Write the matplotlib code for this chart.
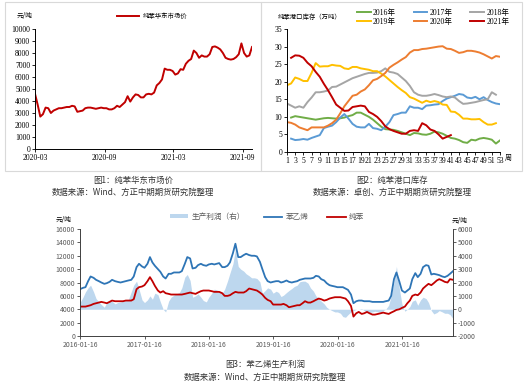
import numpy as np
import pandas as pd
import matplotlib
matplotlib.use('Agg')
import matplotlib.pyplot as plt
from matplotlib.lines import Line2D
from matplotlib.patches import Rectangle, Patch

plt.rcParams['font.family'] = ['Noto Sans CJK SC', 'DejaVu Sans']
plt.rcParams['axes.unicode_minus'] = False

# ---------------- data: chart 1, benzene East China price (weekly) ----------------
price_start = '2020-03-01'
price_values = [4600, 3700, 2700, 2900, 3450, 3400, 3000, 3200, 3300, 3400,
                3400, 3450, 3500, 3500, 3600, 3550, 3100, 3150, 3200, 3400,
                3450, 3450, 3400, 3350, 3400, 3450, 3400, 3400, 3300, 3300,
                3400, 3600, 3500, 3700, 3900, 4400, 3950, 4300, 4550, 4500,
                4300, 4300, 4550, 4600, 4550, 4700, 5300, 5500, 5800, 6700,
                6600, 6600, 6500, 6200, 6300, 6650, 6600, 7100, 7350, 7500,
                8200, 8000, 7600, 7800, 7700, 7700, 7900, 8500, 8550, 8450,
                8300, 8000, 7600, 7500, 7450, 7500, 7650, 7900, 8800, 8000,
                7700, 7800, 8500]

# ---------------- data: chart 2, port inventory by week ----------------
weeks = list(range(1, 54))
nan = np.nan
inv_2016 = [nan, 9.8, 10.2, 10.0, 9.8, 9.6, 9.4, 9.2, 9.4, 9.6, 9.7, 9.6, 9.5,
            9.6, 9.8, 10.2, 10.5, 11.2, 11.2, 10.6, 10.0, 9.2, 8.2, 7.2, 6.5,
            6.4, 6.3, 6.0, 5.6, 5.2, 4.8, 5.4, 5.3, 5.0, 4.9, 5.2, 5.8, 5.6,
            5.2, 4.6, 4.0, 3.8, 3.4, 2.8, 2.6, 3.5, 3.3, 3.8, 4.0, 3.8, 3.5,
            2.4, 3.3]
inv_2017 = [nan, 3.8, 3.4, 3.5, 3.7, 3.5, 4.0, 4.4, 4.8, 6.8, 7.2, 7.5, 8.5,
            9.8, 10.8, 9.5, 8.0, 7.2, 7.0, 7.0, 8.0, 6.8, 6.6, 6.2, 7.2, 8.5,
            10.5, 10.8, 11.2, 11.2, 13.0, 12.6, 12.6, 12.2, 13.2, 13.3, 13.5,
            13.6, 14.5, 15.2, 15.6, 16.0, 16.5, 16.3, 15.5, 15.3, 15.7, 15.0,
            15.6, 14.8, 14.2, 13.8, 13.6]
inv_2018 = [13.8, 13.2, 12.6, 13.0, 12.6, 14.2, 15.5, 17.0, 17.0, 17.2, 17.5,
            18.5, 18.6, 19.2, 19.8, 20.4, 21.0, 21.4, 21.8, 22.2, 22.5, 22.5,
            22.6, 23.0, 23.8, 22.8, 22.6, 22.2, 21.2, 20.2, 18.8, 17.0, 16.3,
            16.0, 16.0, 16.2, 16.5, 16.2, 15.8, 15.6, 15.8, 15.5, 14.5, 13.7,
            13.8, 14.0, 14.2, 14.5, 14.8, 15.0, 17.0, 16.3, nan]
inv_2019 = [19.0, 19.5, 21.2, 20.8, 20.2, 20.2, 22.5, 25.3, 24.3, 24.4, 24.4,
            24.8, 24.6, 24.5, 23.8, 23.6, 24.2, 24.2, 23.8, 23.6, 23.4, 23.0,
            23.0, 22.3, 21.5, 20.5, 19.5, 18.5, 17.6, 16.8, 15.6, 15.2, 14.6,
            14.0, 14.6, 14.2, 14.5, 14.2, 13.5, 13.4, 11.5, 11.4, 10.6, 9.5,
            9.5, 9.3, 9.3, 9.4, 8.5, 7.8, 7.8, 8.2, nan]
inv_2020 = [8.5, 8.3, 7.8, 7.0, 6.6, 6.2, 7.0, 7.0, 7.0, 7.0, 7.5, 8.2, 9.2,
            11.0, 13.0, 14.5, 16.0, 16.3, 17.2, 17.8, 19.0, 20.4, 20.8, 21.6,
            22.5, 24.0, 24.8, 25.5, 26.3, 27.0, 28.3, 29.0, 29.0, 29.3, 29.4,
            29.6, 29.8, 30.0, 30.1, 29.4, 29.3, 28.8, 28.2, 28.4, 28.8, 28.8,
            28.6, 28.3, 27.8, 27.2, 26.6, 27.3, 27.1]
inv_2021 = [nan, 26.8, 27.5, 27.4, 26.8, 25.4, 24.4, 22.8, 21.4, 19.4, 17.6,
            15.6, 13.5, 12.6, 11.7, 11.8, 12.8, 13.0, 13.2, 13.0, 11.4, 10.8,
            10.0, 8.8, 7.3, 6.5, 6.0, 5.6, 5.2, 5.2, 6.0, 6.2, 6.0, 8.2, 7.6,
            6.4, 6.0, 5.0, 3.8, 4.3, 4.8] + [nan] * 12

# ---------------- data: chart 3, styrene / benzene / profit (semi-monthly) ----------------
spread_start = '2016-01-15'
styrene = [7.0, 7.2, 7.3, 8.2, 8.9, 8.7, 8.4, 8.2, 8.0, 7.8,
           7.9, 8.1, 8.4, 8.2, 8.1, 8.0, 8.1, 8.2, 8.3, 8.4,
           8.9, 10.3, 10.8, 10.4, 10.2, 10.8, 11.8, 11.0, 10.5, 10.0,
           9.6, 8.9, 8.6, 9.3, 9.3, 9.5, 9.5, 9.5, 9.7, 10.8,
           11.8, 11.6, 10.1, 10.2, 10.6, 10.8, 10.6, 10.5, 10.7, 10.8,
           10.7, 10.8, 10.9, 10.3, 10.3, 10.5, 11.0, 12.4, 13.8, 11.8,
           11.8, 12.1, 12.3, 12.1, 12.0, 12.0, 11.9, 11.1, 10.0, 8.8,
           8.2, 8.0, 8.1, 8.2, 8.2, 8.0, 8.1, 8.3, 8.1, 8.0,
           8.1, 8.2, 8.4, 8.5, 8.6, 8.6, 8.6, 8.7, 9.0, 8.9,
           8.5, 8.3, 7.9, 7.6, 7.5, 7.4, 7.3, 7.3, 7.3, 7.1,
           6.9, 6.2, 4.9, 5.2, 5.3, 5.3, 5.2, 5.2, 5.2, 5.1,
           5.1, 5.1, 5.1, 5.1, 5.2, 5.3, 6.0, 8.5, 9.5, 8.1,
           6.8, 6.5, 6.8, 7.1, 8.5, 9.4, 8.8, 9.3, 10.3, 10.6,
           10.5, 9.2, 9.3, 9.2, 9.1, 8.9, 8.8, 9.0, 9.3, 9.7]
benzene = [4.4, 4.4, 4.4, 4.5, 4.6, 4.8, 4.9, 5.0, 5.1, 5.0,
           4.9, 5.1, 5.3, 5.2, 5.2, 5.2, 5.2, 5.3, 5.3, 5.3,
           5.5, 7.0, 7.3, 7.4, 7.6, 8.2, 8.8, 8.2, 7.5, 6.8,
           6.5, 6.7, 6.4, 6.3, 6.2, 6.2, 6.2, 6.2, 6.2, 6.3,
           6.4, 6.5, 6.4, 6.3, 6.5, 6.7, 6.8, 6.8, 6.8, 6.7,
           6.6, 6.6, 6.6, 6.4, 6.0, 6.0, 6.1, 6.4, 6.6, 6.5,
           6.5, 6.5, 6.7, 7.1, 7.0, 6.9, 6.8, 6.5, 6.2, 5.7,
           5.4, 5.2, 4.7, 4.7, 4.7, 4.7, 4.8, 4.6, 4.3, 4.4,
           4.5, 4.6, 4.6, 4.9, 5.2, 5.0, 5.0, 5.2, 5.4, 5.6,
           5.5, 5.3, 5.4, 5.6, 5.7, 5.8, 5.8, 5.8, 5.7, 5.6,
           5.2, 4.5, 2.9, 3.4, 3.6, 3.3, 3.4, 3.6, 3.4, 3.2,
           3.2, 3.3, 3.4, 3.5, 3.4, 3.3, 3.5, 3.7, 3.9, 4.0,
           4.2, 4.4, 4.9, 5.3, 6.0, 6.2, 6.1, 6.5, 7.1, 7.5,
           7.8, 7.6, 7.9, 8.3, 8.5, 8.3, 8.1, 8.0, 8.5, 8.4]
profit = [0.5, 0.9, 1.3, 1.6, 1.8, 1.3, 0.8, 0.55, 0.35, 0.15,
          0.5, 0.7, 0.6, 0.4, 0.5, 0.55, 0.6, 0.65, 0.7, 1.3,
          1.8, 2.1, 1.5, 0.7, 0.5, 0.7, 1.0, 0.75, 1.2, 1.1,
          0.55, 0.0, -0.2, 0.6, 0.9, 1.05, 1.15, 1.25, 1.6, 2.4,
          2.6, 2.15, 0.9, 1.0, 1.15, 0.9, 0.65, 0.55, 0.9, 1.2,
          1.5, 1.45, 1.3, 1.2, 1.5, 2.1, 2.7, 3.4, 4.5, 3.2,
          3.0, 2.85, 2.65, 2.5, 2.35, 2.35, 2.3, 2.05, 1.2, 1.4,
          1.6, 1.5, 1.2, 1.35, 1.25, 0.95, 1.05, 1.25, 1.4, 1.55,
          1.7, 1.8, 2.05, 2.1, 2.1, 1.95, 1.6, 1.35, 1.0, 0.8,
          0.6, 0.4, 0.15, 0.0, -0.1, -0.2, -0.2, -0.3, -0.55, -0.6,
          -0.4, -0.2, -0.1, 0.0, 0.0, 0.05, -0.1, -0.2, -0.25, -0.2,
          -0.15, -0.2, -0.2, -0.1, 0.0, 0.3, 1.0, 2.0, 3.2, 1.5,
          0.4, -0.15, 0.0, 0.2, 0.6, 0.7, 0.3, 0.7, 0.9, 0.8,
          0.5, -0.1, -0.35, -0.25, -0.1, -0.2, -0.3, -0.3, -0.4, -0.7]

spread_ticks = ['2016-01-16', '2017-01-16', '2018-01-16', '2019-01-16',
                '2020-01-16', '2021-01-16']

W, H = 530, 387
fig = plt.figure(figsize=(W / 100, H / 100), dpi=100)


def px_axes(l, t, r, b):
    return fig.add_axes([l / W, 1 - b / H, (r - l) / W, (b - t) / H])


def ftext(x, y, s, **kw):
    fig.text(x / W, 1 - y / H, s, **kw)


serif = ['Liberation Serif', 'Noto Sans CJK SC']
cjk = ['Noto Sans CJK SC', 'DejaVu Sans']

# frames around the two top charts
for x0, x1 in [(5, 261), (261, 522)]:
    fig.add_artist(Rectangle((x0 / W, 1 - 171 / H), (x1 - x0) / W, 169 / H,
                             transform=fig.transFigure, fill=False,
                             edgecolor='#d9d9d9', linewidth=0.8))

# ---------------- chart 1 ----------------
ax1 = px_axes(35, 29, 252, 149)
d1 = pd.date_range(price_start, periods=len(price_values), freq='7D')
ax1.plot(d1, price_values, color='#c00000', linewidth=1.4)
ax1.set_ylim(0, 10000)
ax1.set_yticks(range(0, 10001, 1000))
ax1.set_xlim(d1[0], d1[-1])
t1 = pd.to_datetime(['2020-03-01', '2020-09-01', '2021-03-01', '2021-09-01'])
ax1.set_xticks(t1)
ax1.set_xticklabels(['2020-03', '2020-09', '2021-03', '2021-09'])
for s in ['top', 'right']:
    ax1.spines[s].set_visible(False)
for s in ['left', 'bottom']:
    ax1.spines[s].set_linewidth(0.7)
ax1.tick_params(labelsize=5.5, length=2, width=0.6, pad=1.5)
for lab in ax1.get_xticklabels() + ax1.get_yticklabels():
    lab.set_family('Liberation Serif')
ax1.add_artist(Line2D([0.38, 0.48], [1.11, 1.11], transform=ax1.transAxes,
                      color='#c00000', linewidth=1.4, clip_on=False))
ax1.text(0.495, 1.11, '纯苯华东市场价', transform=ax1.transAxes, fontsize=4.6,
         va='center', family=cjk)
ftext(17, 16, '元/吨', fontsize=4.8, va='center', family=cjk)

# ---------------- chart 2 ----------------
ax2 = px_axes(287, 29, 500, 152)
colors2 = ['#70ad47', '#5b9bd5', '#a5a5a5', '#ffc000', '#ed7d31', '#c00000']
series2 = [inv_2016, inv_2017, inv_2018, inv_2019, inv_2020, inv_2021]
names2 = ['2016年', '2017年', '2018年', '2019年', '2020年', '2021年']
lines2 = []
for vals, c, n in zip(series2, colors2, names2):
    ln, = ax2.plot(weeks, vals, color=c, linewidth=1.4, label=n)
    lines2.append(ln)
ax2.set_xlim(1, 53)
ax2.set_ylim(0, 35)
ax2.set_yticks(range(0, 36, 5))
ax2.set_xticks(range(1, 54, 2))
for s in ['top', 'right']:
    ax2.spines[s].set_visible(False)
for s in ['left', 'bottom']:
    ax2.spines[s].set_linewidth(0.7)
ax2.tick_params(labelsize=5.5, length=2, width=0.6, pad=1.5)
for lab in ax2.get_xticklabels() + ax2.get_yticklabels():
    lab.set_family('Liberation Serif')
order = [0, 3, 1, 4, 2, 5]
ax2.legend([lines2[i] for i in order], [names2[i] for i in order], ncol=3,
           loc='upper left', bbox_to_anchor=(357 / W, 1 - 9 / H),
           bbox_transform=fig.transFigure, frameon=False,
           prop={'family': serif, 'size': 5.5}, handlelength=1.8,
           handletextpad=0.3, columnspacing=2.3, labelspacing=0.15,
           borderpad=0, borderaxespad=0)
ftext(278, 17, '纯苯港口库存（万吨）', fontsize=4.6, va='center', family=cjk)
ftext(505, 158, '周', fontsize=5, va='center', family=cjk)

# ---------------- captions top ----------------
ftext(133, 180, '图1：纯苯华东市场价', fontsize=6, ha='center', va='center',
      family=cjk, color='#333333')
ftext(133, 192, '数据来源：Wind、方正中期期货研究院整理', fontsize=6,
      ha='center', va='center', family=cjk, color='#333333')
ftext(392, 180, '图2：纯苯港口库存', fontsize=6, ha='center', va='center',
      family=cjk, color='#333333')
ftext(392, 192, '数据来源：卓创、方正中期期货研究院整理', fontsize=6,
      ha='center', va='center', family=cjk, color='#333333')

# ---------------- chart 3 ----------------
ax3 = px_axes(80, 229, 453, 336)
ax3r = ax3.twinx()
d3 = pd.date_range(spread_start, periods=len(styrene), freq='SMS')
ax3r.fill_between(d3, profit, 0, color='#bdd7ee', linewidth=0)
ax3.plot(d3, np.array(styrene) * 1000, color='#2e75b6', linewidth=1.3)
ax3.plot(d3, np.array(benzene) * 1000, color='#c00000', linewidth=1.3)
ax3.set_zorder(ax3r.get_zorder() + 1)
ax3.patch.set_visible(False)
ax3.set_ylim(0, 16000)
ax3.set_yticks(range(0, 16001, 2000))
ax3r.set_ylim(-2, 6)
ax3r.set_yticks(np.arange(-2, 6.1, 1))
ax3r.set_yticklabels([str(v) for v in range(-2000, 6001, 1000)])
ax3.set_xlim(d3[0], d3[-1])
ax3.set_xticks(pd.to_datetime(spread_ticks))
ax3.set_xticklabels(spread_ticks)
for a in (ax3, ax3r):
    a.spines['top'].set_visible(False)
    for s in a.spines.values():
        s.set_linewidth(0.7)
        s.set_color('#404040')
    a.tick_params(labelsize=5, length=2, width=0.6, pad=1.5,
                  labelcolor='#595959', color='#404040')
ax3.spines['right'].set_visible(False)
ax3r.spines['left'].set_visible(False)
ax3r.spines['bottom'].set_visible(False)

leg_items = [Patch(facecolor='#bdd7ee', edgecolor='none'),
             Line2D([], [], color='#2e75b6', linewidth=1.3),
             Line2D([], [], color='#c00000', linewidth=1.3)]
ax3.legend(leg_items, ['生产利润（右）', '苯乙烯', '纯苯'], ncol=3,
           loc='center left', bbox_to_anchor=(170 / W, 1 - 217 / H),
           bbox_transform=fig.transFigure, frameon=False,
           prop={'family': cjk, 'size': 5.5}, handlelength=2.4,
           handleheight=0.5, handletextpad=0.4, columnspacing=2.5,
           borderpad=0, borderaxespad=0, labelcolor='#595959')
ftext(56, 220, '元/吨', fontsize=4.8, va='center', family=cjk)
ftext(452, 221, '元/吨', fontsize=4.8, va='center', family=cjk)

ftext(265, 365, '图3：苯乙烯生产利润', fontsize=6, ha='center', va='center',
      family=cjk, color='#333333')
ftext(265, 377, '数据来源：Wind、方正中期期货研究院整理', fontsize=6,
      ha='center', va='center', family=cjk, color='#333333')

fig.savefig('out.png', dpi=100)
